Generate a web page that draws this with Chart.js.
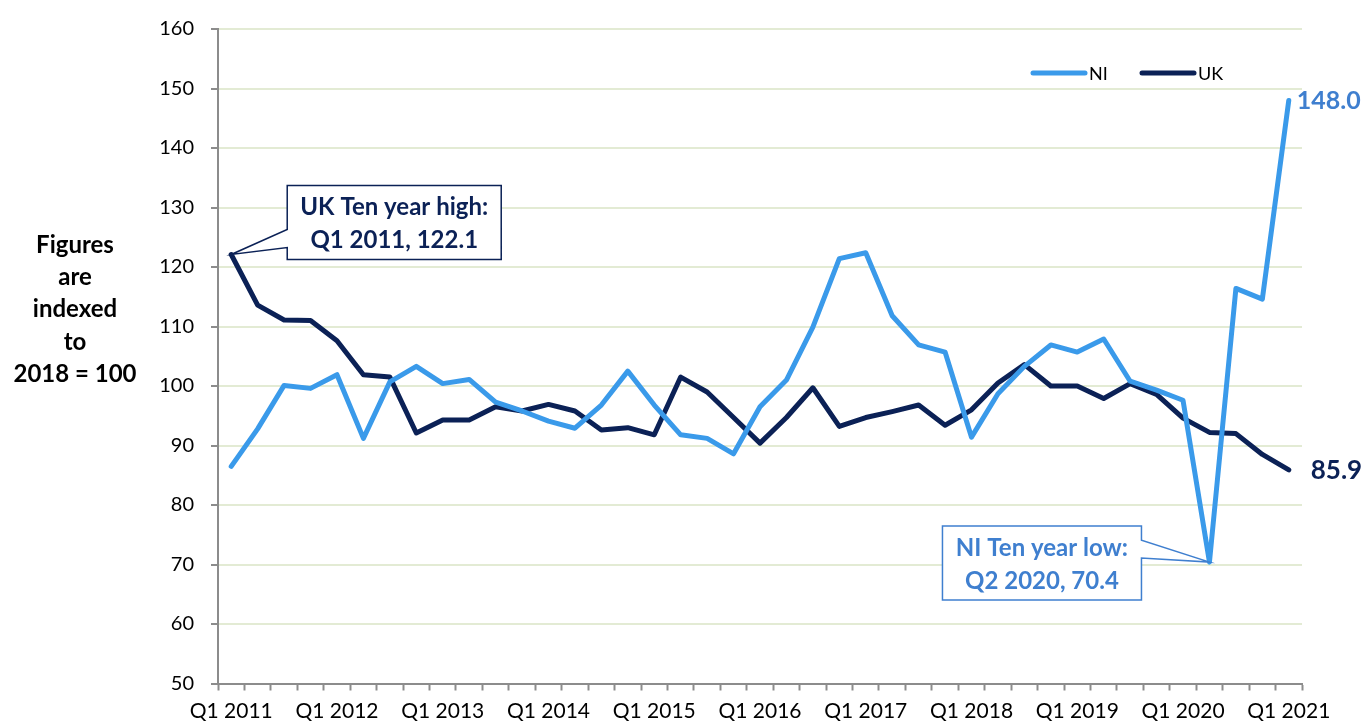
<!DOCTYPE html>
<html>
<head>
<meta charset="utf-8">
<script src="https://cdn.jsdelivr.net/npm/chart.js"></script>
<style>
  html, body { margin: 0; padding: 0; background: #fff; }
  #wrap { width: 1363px; height: 722px; }
</style>
</head>
<body>
<div id="wrap"><canvas id="indexChart" width="1363" height="722"></canvas></div>
<script>
// 四半期ラベル
const quarters = [
  'Q1 2011','Q2 2011','Q3 2011','Q4 2011',
  'Q1 2012','Q2 2012','Q3 2012','Q4 2012',
  'Q1 2013','Q2 2013','Q3 2013','Q4 2013',
  'Q1 2014','Q2 2014','Q3 2014','Q4 2014',
  'Q1 2015','Q2 2015','Q3 2015','Q4 2015',
  'Q1 2016','Q2 2016','Q3 2016','Q4 2016',
  'Q1 2017','Q2 2017','Q3 2017','Q4 2017',
  'Q1 2018','Q2 2018','Q3 2018','Q4 2018',
  'Q1 2019','Q2 2019','Q3 2019','Q4 2019',
  'Q1 2020','Q2 2020','Q3 2020','Q4 2020',
  'Q1 2021'
];

// NI
const niValues = [
  86.5, 92.8, 100.1, 99.6, 101.9, 91.2, 100.7, 103.3,
  100.4, 101.1, 97.3, 95.8, 94.1, 92.9, 96.8, 102.5,
  96.8, 91.8, 91.2, 88.6, 96.5, 101.0, 109.9, 121.4,
  122.4, 111.8, 106.9, 105.7, 91.4, 98.7, 103.3, 106.9,
  105.7, 107.9, 100.8, 99.3, 97.6, 70.4, 116.4, 114.6,
  148.0
];

// UK
const ukValues = [
  122.1, 113.6, 111.1, 111.0, 107.6, 101.9, 101.5, 92.1,
  94.3, 94.3, 96.5, 95.8, 96.9, 95.8, 92.6, 93.0,
  91.8, 101.5, 99.0, 94.7, 90.4, 94.7, 99.7, 93.2,
  94.7, 95.7, 96.8, 93.4, 96.0, 100.5, 103.6, 100.0,
  100.0, 97.9, 100.4, 98.6, 94.6, 92.2, 92.0, 88.5,
  85.9
];

const yTicks = [50, 60, 70, 80, 90, 100, 110, 120, 130, 140, 150, 160];
const yTitle = ['Figures', 'are', 'indexed', 'to', '2018 = 100'];

const NI_COLOR = '#3A9AEA';
const UK_COLOR = '#0B2156';
const NI_TEXT = '#3F7FCF';

Chart.defaults.font.family = 'Lato, "Open Sans", sans-serif';

// 注釈・凡例・軸タイトルを描く
const extras = {
  id: 'extras',
  afterDatasetsDraw(chart) {
    const ctx = chart.ctx;
    const x = chart.scales.x;
    const y = chart.scales.y;

    // 軸タイトル
    ctx.save();
    ctx.fillStyle = '#000';
    ctx.font = 'bold 24px Lato, sans-serif';
    ctx.textAlign = 'center';
    ctx.textBaseline = 'middle';
    const titleY = [245, 277, 309, 342, 374];
    yTitle.forEach((t, i) => ctx.fillText(t, 75, titleY[i]));
    ctx.restore();

    // 凡例
    ctx.save();
    ctx.lineCap = 'round';
    ctx.lineWidth = 5;
    ctx.font = '18px Lato, sans-serif';
    ctx.textBaseline = 'middle';
    ctx.fillStyle = '#000';
    const leg = [[chart.data.datasets[0], 1033], [chart.data.datasets[1], 1142]];
    leg.forEach(([ds, lx]) => {
      ctx.strokeStyle = ds.borderColor;
      ctx.beginPath();
      ctx.moveTo(lx, 73);
      ctx.lineTo(lx + 52, 73);
      ctx.stroke();
      ctx.fillText(ds.label, lx + 56, 74);
    });
    ctx.restore();

    // 最終値ラベル
    const last = quarters.length - 1;
    const lx = x.getPixelForValue(last);
    ctx.save();
    ctx.font = 'bold 25px Lato, sans-serif';
    ctx.textBaseline = 'middle';
    ctx.fillStyle = NI_TEXT;
    ctx.fillText(niValues[last].toFixed(1), lx + 8, y.getPixelForValue(niValues[last]) + 1);
    ctx.fillStyle = UK_COLOR;
    ctx.font = 'bold 26px Lato, sans-serif';
    ctx.fillText(ukValues[last].toFixed(1), lx + 22, y.getPixelForValue(ukValues[last]) + 1);
    ctx.restore();

    // 吹き出し
    function callout(ax, ay, box, p1, p2, color, lines) {
      ctx.save();
      ctx.beginPath();
      if (p1.side === 'left') {
        ctx.moveTo(box.l, box.t);
        ctx.lineTo(box.r, box.t);
        ctx.lineTo(box.r, box.b);
        ctx.lineTo(box.l, box.b);
        ctx.lineTo(box.l, p2.y);
        ctx.lineTo(ax, ay);
        ctx.lineTo(box.l, p1.y);
      } else {
        ctx.moveTo(box.l, box.t);
        ctx.lineTo(box.r, box.t);
        ctx.lineTo(box.r, p1.y);
        ctx.lineTo(ax, ay);
        ctx.lineTo(box.r, p2.y);
        ctx.lineTo(box.r, box.b);
        ctx.lineTo(box.l, box.b);
      }
      ctx.closePath();
      ctx.fillStyle = '#fff';
      ctx.fill();
      ctx.strokeStyle = color;
      ctx.lineWidth = 1.5;
      ctx.stroke();
      ctx.fillStyle = color;
      ctx.font = 'bold 24px Lato, sans-serif';
      ctx.textAlign = 'center';
      ctx.textBaseline = 'middle';
      const cx = (box.l + box.r) / 2;
      ctx.fillText(lines[0], cx, box.t + 22);
      ctx.fillText(lines[1], cx, box.t + 55);
      ctx.restore();
    }

    const ukx = x.getPixelForValue(0), uky = y.getPixelForValue(ukValues[0]);
    callout(ukx, uky, {l: ukx + 56, r: ukx + 270, t: uky - 69, b: uky + 5},
      {side: 'left', y: uky - 25}, {side: 'left', y: uky - 7},
      UK_COLOR, ['UK Ten year high:', 'Q1 2011, ' + ukValues[0].toFixed(1)]);

    const nix = x.getPixelForValue(37), niy = y.getPixelForValue(niValues[37]);
    callout(nix, niy, {l: nix - 267, r: nix - 68, t: niy - 36, b: niy + 38},
      {side: 'right', y: niy - 22}, {side: 'right', y: niy - 4},
      NI_TEXT, ['NI Ten year low:', 'Q2 2020, ' + niValues[37].toFixed(1)]);
  }
};

const chart = new Chart(document.getElementById('indexChart'), {
  type: 'line',
  data: {
    labels: quarters,
    datasets: [
      {
        label: 'NI',
        data: niValues,
        borderColor: NI_COLOR,
        borderWidth: 5,
        pointRadius: 0,
        tension: 0,
        borderJoinStyle: 'round',
        borderCapStyle: 'round'
      },
      {
        label: 'UK',
        data: ukValues,
        borderColor: UK_COLOR,
        borderWidth: 5,
        pointRadius: 0,
        tension: 0,
        borderJoinStyle: 'round',
        borderCapStyle: 'round'
      }
    ]
  },
  options: {
    responsive: false,
    animation: false,
    layout: { padding: { top: 26, right: 61, left: 0, bottom: 0 } },
    plugins: {
      legend: { display: false },
      tooltip: { enabled: false }
    },
    scales: {
      x: {
        offset: true,
        grid: {
          offset: true,
          drawOnChartArea: false,
          drawTicks: true,
          tickLength: 7,
          tickColor: '#8C8C8C',
          tickWidth: 2
        },
        border: { color: '#8C8C8C', width: 2 },
        ticks: {
          autoSkip: false,
          maxRotation: 0,
          padding: 8,
          color: '#000',
          font: { size: 21 },
          callback: function(v, i) {
            return quarters[i].startsWith('Q1') ? quarters[i] : '';
          }
        },
        afterFit: function(scale) { scale.height = 38.5; }
      },
      y: {
        min: 50,
        max: 160,
        grid: {
          color: '#E3EBD4',
          lineWidth: 2,
          tickLength: 7,
          tickColor: '#8C8C8C',
          tickWidth: 2
        },
        border: { color: '#8C8C8C', width: 2 },
        afterBuildTicks: function(scale) {
          scale.ticks = yTicks.map(v => ({ value: v }));
        },
        ticks: {
          padding: 17,
          color: '#000',
          font: { size: 20 }
        },
        afterFit: function(scale) { scale.width = 218; }
      }
    }
  },
  plugins: [extras]
});
</script>
</body>
</html>
